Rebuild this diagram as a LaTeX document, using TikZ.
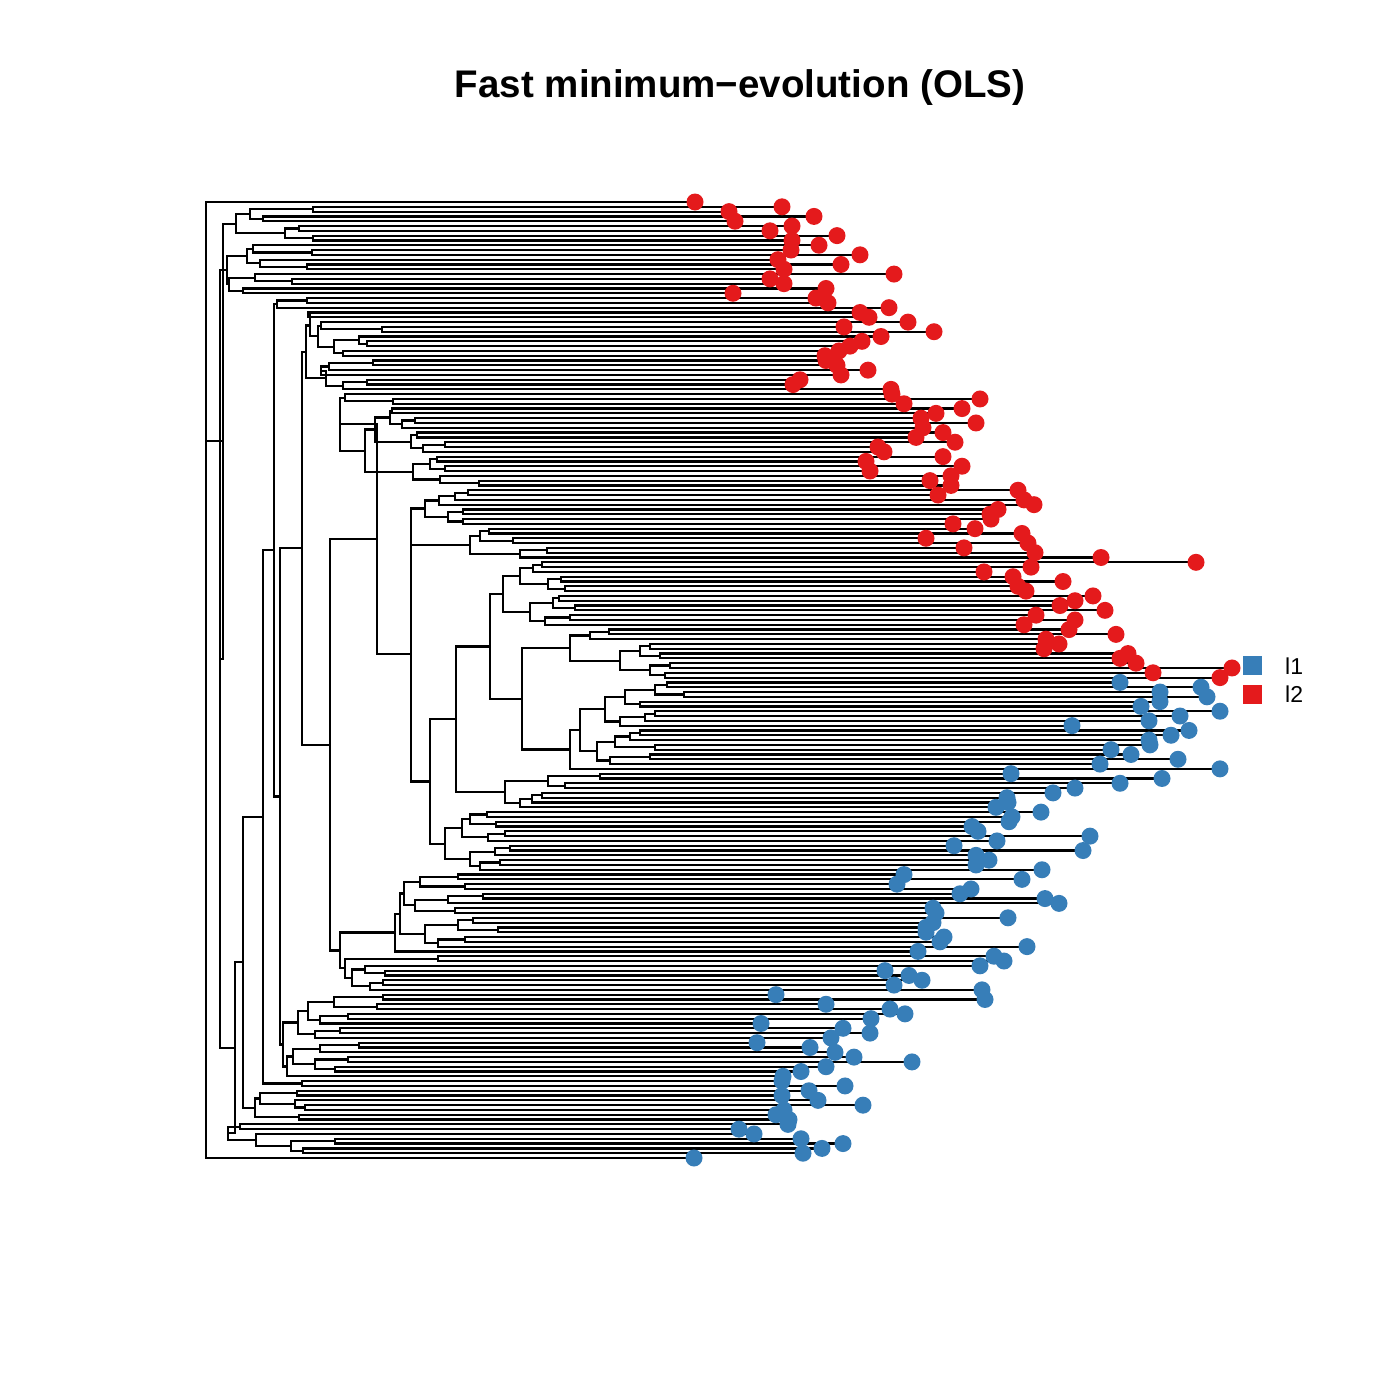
\documentclass[tikz,border=0pt]{standalone}
\usepackage{fontspec}
\setmainfont{Liberation Sans}
\usetikzlibrary{calc}
\definecolor{cred}{HTML}{E41A1C}
\definecolor{cblue}{HTML}{377EB8}
\tikzset{brl/.style={line width=2.2pt,black}}
\newcommand\nd[4]{%
  \path let \p1=(#3), \p2=(#4), \n1={0.5*(\y1+\y2)} in (#2pt,\n1) coordinate (#1);
  \draw[brl] (#3) -- (#1 |- #3) -- (#1 |- #4) -- (#4);
}
\begin{document}
\begin{tikzpicture}[x=1pt,y=-1pt]
\useasboundingbox (0,0) rectangle (1400,1400);
% tips
\foreach \i/\x in {1/695,2/782,3/729,4/814,5/735,6/792,7/770,8/837,9/792,10/819,
11/791,12/860,13/778,14/841,15/784,16/894,17/770,18/784,19/826,20/733,
21/816,22/828,23/889,24/860,25/869,26/908,27/844,28/934,29/881,30/862,
31/850,32/839,33/825,34/826,35/837,36/868,37/841,38/800,39/793,40/891,
41/892,42/980,43/904,44/962,45/936,46/921,47/976,48/923,49/943,50/916,
51/955,52/878,53/884,54/943,55/866,56/962,57/870,58/951,59/930,60/951,
61/1018,62/938,63/1024,64/1034,65/998,66/990,67/991,68/953,69/975,70/1022,
71/926,72/1028,73/964,74/1035,75/1101,76/1196,77/1031,78/984,79/1013,80/1063,
81/1018,82/1026,83/1093,84/1075,85/1060,86/1105,87/1036,88/1075,89/1024,90/1069,
91/1116,92/1046,93/1059,94/1044,95/1128,96/1120,97/1136,98/1232,99/1153,100/1220,
101/1120,102/1201,103/1160,104/1207,105/1160,106/1141,107/1220,108/1180,109/1149,110/1072,
111/1189,112/1171,113/1149,114/1150,115/1111,116/1131,117/1178,118/1100,119/1220,120/1011,
121/1162,122/1120,123/1075,124/1053,125/1007,126/1008,127/996,128/1041,129/1012,130/1009,
131/972,132/978,133/1090,134/997,135/954,136/1083,137/976,138/989,139/976,140/1042,
141/904,142/1022,143/897,144/971,145/960,146/1045,147/1059,148/933,149/936,150/1008,
151/933,152/926,153/926,154/944,155/940,156/1027,157/918,158/994,159/1004,160/980,
161/885,162/909,163/922,164/894,165/982,166/776,167/985,168/826,169/890,170/905,
171/871,172/761,173/843,174/870,175/831,176/757,177/810,178/835,179/854,180/912,
181/826,182/801,183/783,184/782,185/845,186/809,187/782,188/818,189/863,190/784,
191/776,192/789,193/788,194/739,195/754,196/801,197/843,198/822,199/803,200/694}
  {\coordinate (t\i) at (\x,{202+4.804*(\i-1)});}
% top clade A
\nd{a1}{313}{t2}{t3}
\nd{a2}{263}{t4}{t5}
\nd{a3}{250}{a1}{a2}
\nd{a4}{299}{t6}{t7}
\nd{a5}{313}{t8}{t9}
\nd{a6}{285}{a4}{a5}
\nd{A}{236}{a3}{a6}
% clade C
\nd{b1}{312}{t11}{t12}
\nd{b2}{253}{t10}{b1}
\nd{b3}{307}{t14}{t15}
\nd{b4}{260}{t13}{b3}
\nd{b5}{247}{b2}{b4}
\nd{c1}{292}{t17}{t18}
\nd{c2}{255}{t16}{c1}
\nd{c3}{243}{t19}{t20}
\nd{c4}{229}{c2}{c3}
\nd{C}{227}{b5}{c4}
% d
\nd{d1}{307}{t21}{t22}
\nd{d2}{277}{d1}{t23}
% Sa 24-40
\nd{n8}{308}{t24}{t25}
\nd{n1}{382}{t27}{t28}
\nd{n2}{321}{t26}{n1}
\nd{n3}{367}{t30}{t31}
\nd{n4}{359}{t29}{n3}
\nd{n5}{343}{t32}{t33}
\nd{n6}{334}{n4}{n5}
\nd{n7}{318}{n2}{n6}
\nd{Sa1}{310}{n8}{n7}
\nd{n9}{373}{t34}{t35}
\nd{n10}{329}{n9}{t36}
\nd{n11}{321}{n10}{t37}
\nd{n12}{367}{t38}{t39}
\nd{n13}{343}{n12}{t40}
\nd{Sa2}{326}{n11}{n13}
\nd{Sa}{306}{Sa1}{Sa2}
% Sb 41-60
\nd{m1}{393}{t42}{t43}
\nd{m2}{345}{t41}{m1}
\nd{m3}{392}{t44}{t45}
\nd{m4}{415}{t46}{t47}
\nd{m5}{402}{m4}{t48}
\nd{m6}{390}{m3}{m5}
\nd{m7}{417}{t49}{t50}
\nd{m8}{445}{t51}{t52}
\nd{m9}{423}{m8}{t53}
\nd{m10}{411}{m7}{m9}
\nd{m11}{375}{m6}{m10}
\nd{m12}{437}{t54}{t55}
\nd{m13}{445}{t56}{t57}
\nd{m14}{430}{m12}{m13}
\nd{m15}{479}{t59}{t60}
\nd{m16}{440}{t58}{m15}
\nd{m17}{413}{m14}{m16}
\nd{m18}{365}{m11}{m17}
\nd{Sb}{340}{m2}{m18}
% Sc 61-75
\nd{p1}{468}{t61}{t62}
\nd{p2}{455}{p1}{t63}
\nd{p3}{439}{p2}{t64}
\nd{p4}{463}{t65}{t66}
\nd{p5}{463}{t67}{t68}
\nd{p6}{448}{p4}{p5}
\nd{p7}{425}{p3}{p6}
\nd{p8}{489}{t69}{t70}
\nd{p9}{513}{t71}{t72}
\nd{p10}{480}{p8}{p9}
\nd{p11}{547}{t73}{t74}
\nd{p12}{520}{p11}{t75}
\nd{p13}{470}{p10}{p12}
\nd{Sc}{411}{p7}{p13}
% Sd 76-89
\nd{q1}{542}{t76}{t77}
\nd{q2}{533}{q1}{t78}
\nd{q3}{561}{t79}{t80}
\nd{q4}{565}{t81}{t82}
\nd{q5}{548}{q3}{q4}
\nd{q6}{520}{q2}{q5}
\nd{q7}{559}{t83}{t84}
\nd{q8}{575}{t85}{t86}
\nd{q9}{553}{q7}{q8}
\nd{q10}{570}{t87}{t88}
\nd{q11}{545}{q10}{t89}
\nd{q12}{530}{q9}{q11}
\nd{Sd}{503}{q6}{q12}
% Se 90-100
\nd{r1}{609}{t90}{t91}
\nd{r2}{590}{r1}{t92}
\nd{r3}{650}{t93}{t94}
\nd{r4}{660}{t95}{t96}
\nd{r5}{640}{r3}{r4}
\nd{r6}{670}{t97}{t98}
\nd{r7}{665}{t99}{t100}
\nd{r8}{650}{r6}{r7}
\nd{r9}{620}{r5}{r8}
\nd{Se}{570}{r2}{r9}
% Sf 101-119
\nd{u1}{667}{t101}{t102}
\nd{u2}{684}{t103}{t104}
\nd{u3}{655}{u1}{u2}
\nd{u4}{640}{t105}{t106}
\nd{u5}{625}{u3}{u4}
\nd{u6}{655}{t107}{t108}
\nd{u7}{645}{u6}{t109}
\nd{u8}{620}{u7}{t110}
\nd{u9}{605}{u5}{u8}
\nd{u10}{640}{t111}{t112}
\nd{u11}{630}{u10}{t113}
\nd{u12}{655}{t114}{t115}
\nd{u13}{615}{u11}{u12}
\nd{u14}{650}{t116}{t117}
\nd{u15}{610}{u14}{t118}
\nd{u16}{597}{u13}{u15}
\nd{u17}{580}{u9}{u16}
\nd{Sf}{570}{u17}{t119}
% Sg 120-127
\nd{v1}{600}{t120}{t121}
\nd{v2}{565}{t122}{t123}
\nd{v3}{548}{v1}{v2}
\nd{v4}{542}{t124}{t125}
\nd{v5}{532}{v4}{t126}
\nd{v6}{520}{v5}{t127}
\nd{Sg}{505}{v3}{v6}
% Sh 128-140
\nd{w1}{487}{t128}{t129}
\nd{w2}{496}{t130}{t131}
\nd{w3}{470}{w1}{w2}
\nd{w4}{505}{t132}{t133}
\nd{w5}{488}{w4}{t134}
\nd{w6}{462}{w3}{w5}
\nd{w7}{510}{t135}{t136}
\nd{w8}{495}{w7}{t137}
\nd{w9}{500}{t138}{t139}
\nd{w10}{480}{w9}{t140}
\nd{w11}{470}{w8}{w10}
\nd{Sh}{445}{w6}{w11}
% Si 141-157
\nd{x1}{458}{t141}{t142}
\nd{x2}{465}{t143}{t144}
\nd{x3}{420}{x1}{x2}
\nd{x4}{483}{t145}{t146}
\nd{x5}{448}{x4}{t147}
\nd{x6}{455}{t148}{t149}
\nd{x7}{415}{x5}{x6}
\nd{x8}{404}{x3}{x7}
\nd{x9}{473}{t150}{t151}
\nd{x10}{498}{t152}{t153}
\nd{x11}{458}{x9}{x10}
\nd{x12}{465}{t154}{t155}
\nd{x13}{438}{x12}{t156}
\nd{x14}{425}{x11}{x13}
\nd{x15}{400}{x8}{x14}
\nd{Si}{395}{x15}{t157}
% Sj 158-165
\nd{y1}{438}{t158}{t159}
\nd{y2}{385}{t161}{t162}
\nd{y3}{365}{t160}{y2}
\nd{y4}{383}{t163}{t164}
\nd{y4b}{370}{y4}{t165}
\nd{y5}{352}{y3}{y4b}
\nd{Sj}{345}{y1}{y5}
% spine
\nd{P9}{522}{Se}{Sf}
\nd{P8}{490}{Sd}{P9}
\nd{P7}{456}{P8}{Sg}
\nd{P6}{430}{P7}{Sh}
\nd{P5a}{411}{Sc}{P6}
\nd{P4}{377}{Sb}{P5a}
\nd{P5}{340}{Si}{Sj}
\nd{P3}{330}{P4}{P5}
\nd{P2}{302}{Sa}{P3}
% Sk 166-175
\nd{z1}{383}{t166}{t167}
\nd{z2}{377}{t168}{t169}
\nd{z3}{334}{z1}{z2}
\nd{z4}{348}{t170}{t171}
\nd{z5}{320}{z4}{t172}
\nd{z6}{308}{z3}{z5}
\nd{z7}{340}{t173}{t174}
\nd{z8}{315}{z7}{t175}
\nd{Sk}{298}{z6}{z8}
% Sl 176-183
\nd{s1}{359}{t176}{t177}
\nd{s2}{320}{s1}{t178}
\nd{s3}{348}{t179}{t180}
\nd{s4}{335}{t181}{t182}
\nd{s5}{315}{s3}{s4}
\nd{s6}{293}{s2}{s5}
\nd{Sl}{287}{s6}{t183}
\nd{Fl}{283}{Sk}{Sl}
\nd{f}{280}{P2}{Fl}
\nd{e}{274}{d2}{f}
\nd{h}{302}{t184}{t185}
\nd{g}{263}{e}{h}
% k 186-192
\nd{k11}{297}{t186}{t187}
\nd{k12}{305}{t189}{t190}
\nd{k13}{295}{t188}{k12}
\nd{k1}{260}{k11}{k13}
\nd{k2}{299}{t191}{t192}
\nd{k}{255}{k1}{k2}
\nd{Z1}{243}{g}{k}
% Z2 193-199
\nd{W1}{240}{t193}{t194}
\nd{W31}{335}{t196}{t197}
\nd{W32}{303}{t198}{t199}
\nd{W3}{291}{W31}{W32}
\nd{W2}{256}{t195}{W3}
\nd{Z2}{228}{W1}{W2}
\nd{Y}{235}{Z1}{Z2}
\nd{X}{220}{C}{Y}
\nd{R2}{223}{A}{X}
% root
\coordinate (rt) at (206,0);
\path (rt |- R2) coordinate (root);
\draw[brl] (t1) -- (rt |- t1) -- (rt |- t200) -- (t200);
\draw[brl] (root) -- (R2);
% tip dots
\foreach \i in {1,...,100} {\fill[cred] (t\i) circle[radius=8.5];}
\foreach \i in {101,...,200} {\fill[cblue] (t\i) circle[radius=8.5];}
% title
\node (title) [anchor=base, font=\bfseries\fontsize{38.5}{44}\selectfont] at (740,97) {Fast minimum−evolution (OLS)};
% legend
\node (leg1) [fill=cblue, minimum size=18.5pt, inner sep=0pt] at (1252.5,665.5) {};
\node (leg2) [fill=cred, minimum size=18.5pt, inner sep=0pt] at (1252.5,694.7) {};
\node (leg1t) [anchor=base west, inner sep=0pt, font=\fontsize{23}{27}\selectfont] at (1285,674.3) {l1};
\node (leg2t) [anchor=base west, inner sep=0pt, font=\fontsize{23}{27}\selectfont] at (1285,702.3) {l2};
\end{tikzpicture}
\end{document}
